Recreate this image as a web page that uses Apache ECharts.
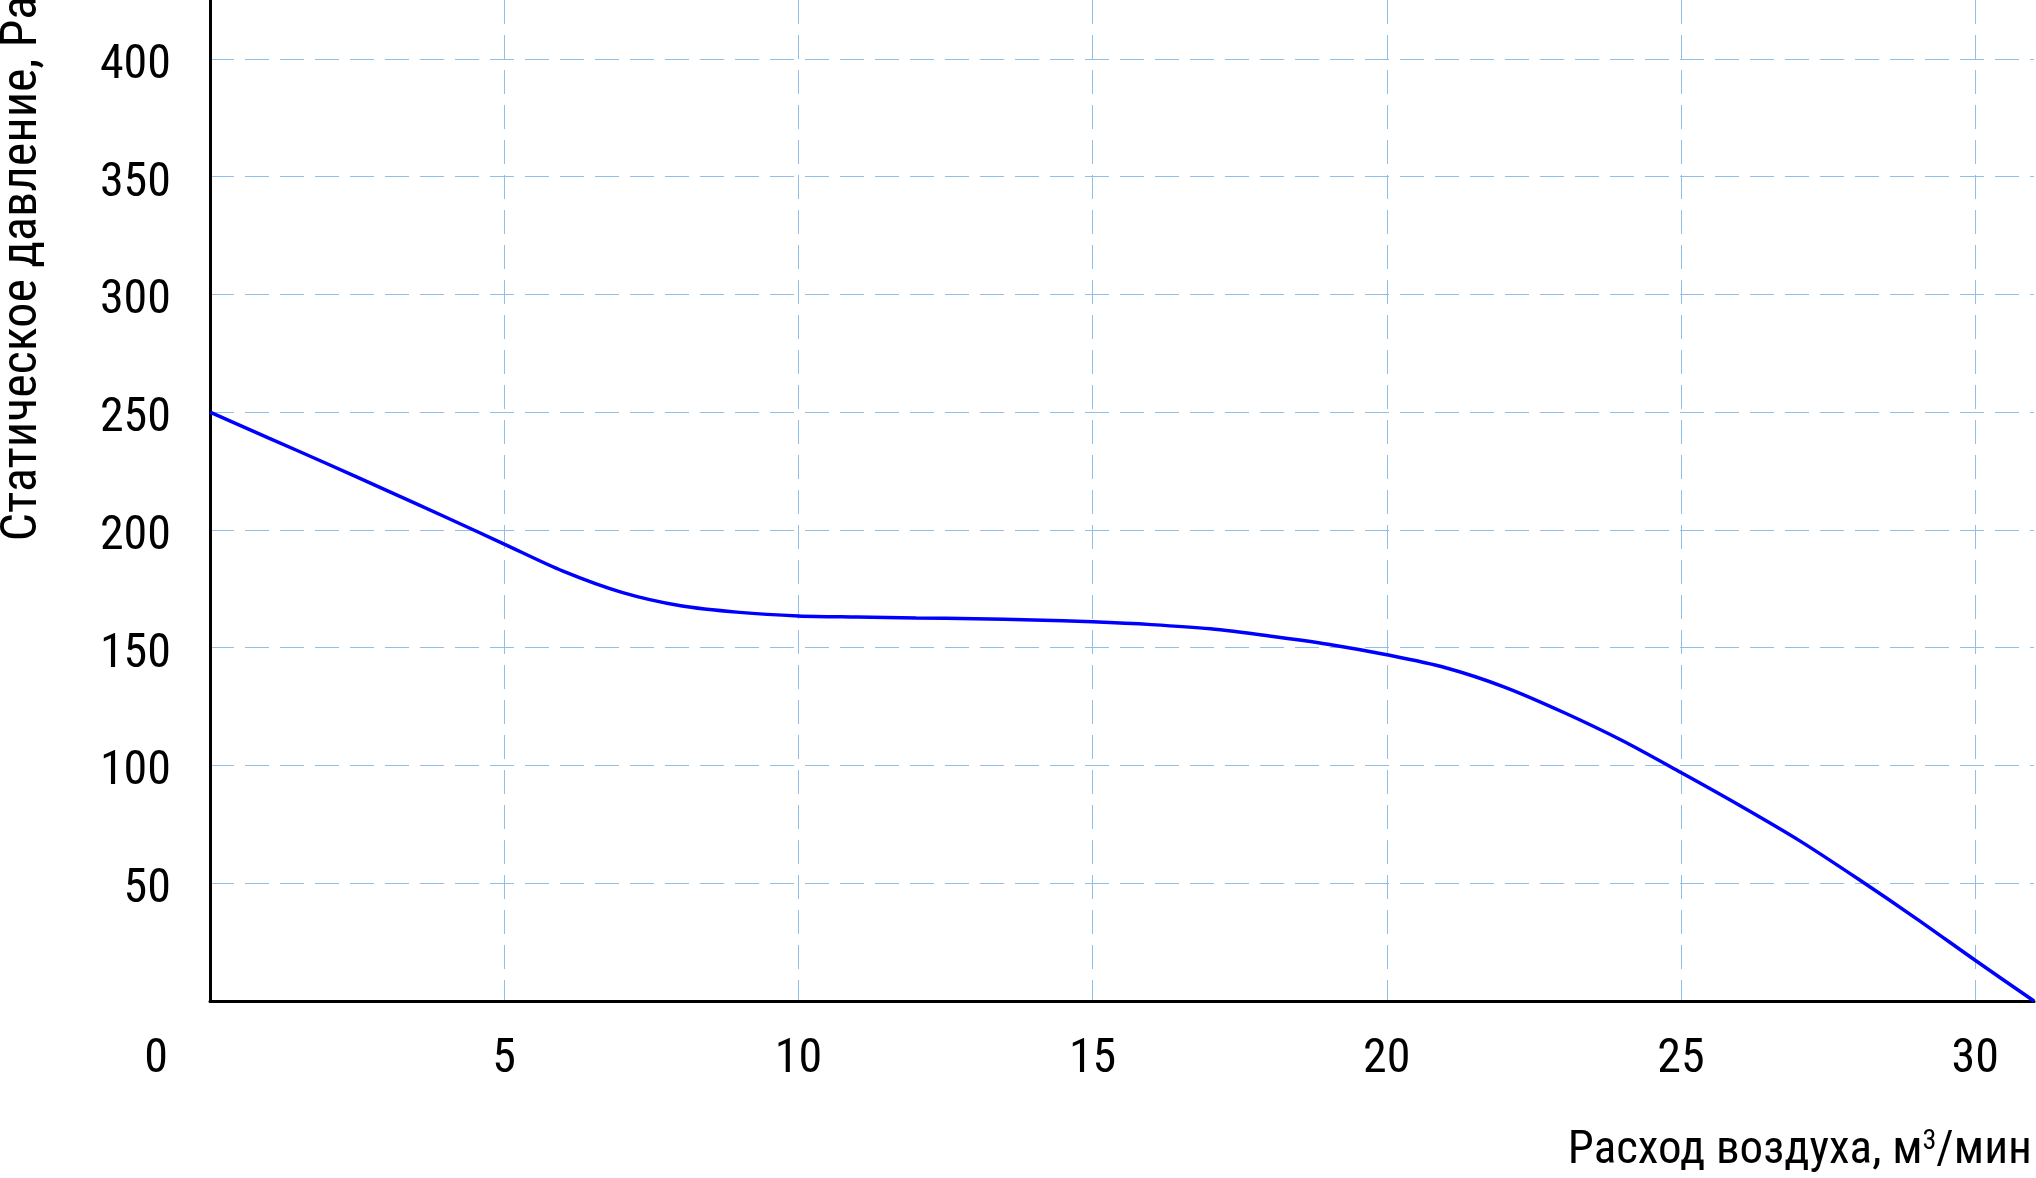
<!DOCTYPE html>
<html>
<head>
<meta charset="utf-8">
<script src="https://cdn.jsdelivr.net/npm/echarts@6/dist/echarts.min.js"></script>
<style>
html,body{margin:0;padding:0;background:#fff;}
#chart{width:2036px;height:1178px;}
</style>
</head>
<body>
<div id="chart"></div>
<script>
// Air flow, m3/min
const flow = [0, 1, 2, 3, 4, 5, 6, 7, 8, 9, 10, 11, 12, 13, 14, 15, 16, 17, 18, 19, 20, 21, 22, 23, 24, 25, 26, 27, 28, 29, 30, 31];
// Static pressure, Pa
const pressure = [250, 239, 228, 216.8, 205.5, 194, 182.5, 173.5, 167.8, 165, 163.5, 163, 162.6, 162.3, 161.8, 161, 159.8, 158, 155, 151.5, 147, 141.5, 133.3, 122.6, 110.6, 97, 83, 68.3, 52, 35, 17.3, 0];
const xTicks = [0, 5, 10, 15, 20, 25, 30];
const yTicks = [50, 100, 150, 200, 250, 300, 350, 400];
const xTitle = 'Расход воздуха, м';
const yTitle = 'Статическое давление, Ра';

const FONT = '"Liberation Sans Narrow", "Arial Narrow", "Roboto Condensed", "Liberation Sans", sans-serif';
const gridColor = '#90bfea';

const chart = echarts.init(document.getElementById('chart'), null, {renderer: 'canvas'});
chart.setOption({
  backgroundColor: '#ffffff',
  animation: false,
  grid: {left: 210, right: 2, top: 0, bottom: 177, containLabel: false, outerBoundsMode: 'none'},
  xAxis: {
    type: 'value', min: 0, max: 31, interval: 5,
    axisLine: {show: true, onZero: false, lineStyle: {color: '#000', width: 3}},
    axisTick: {show: false},
    splitLine: {show: true, showMinLine: false, showMaxLine: false,
      lineStyle: {color: gridColor, width: 1, type: [24, 11]}},
    axisLabel: {
      margin: 35, fontSize: 48, color: '#000', fontFamily: FONT,
      formatter: function (v) {
        if (xTicks.indexOf(v) < 0) return '';
        if (v === 0) return '{z|0}';
        return String(v);
      },
      rich: {z: {fontSize: 48, fontFamily: FONT, color: '#000', padding: [0, 108, 0, 0]}}
    },
    name: xTitle + '{sup|3}/мин',
    nameLocation: 'end', nameGap: -2,
    nameTextStyle: {
      fontSize: 47, fontFamily: FONT, color: '#000', align: 'right', verticalAlign: 'top',
      padding: [127, 0, 0, 0],
      rich: {sup: {fontSize: 28, fontFamily: FONT, color: '#000', verticalAlign: 'top', padding: [0, 0, 12, 0]}}
    }
  },
  yAxis: {
    type: 'value', min: 0, max: 425, interval: 50,
    axisLine: {show: true, onZero: false, lineStyle: {color: '#000', width: 3}},
    axisTick: {show: false},
    splitLine: {show: true, showMinLine: false, showMaxLine: false,
      lineStyle: {color: gridColor, width: 1, type: [24, 11]}},
    axisLabel: {
      margin: 39, fontSize: 48, color: '#000', fontFamily: FONT,
      formatter: function (v) { return yTicks.indexOf(v) < 0 ? '' : '{a|' + v + '}'; },
      rich: {a: {fontSize: 48, fontFamily: FONT, color: '#000', padding: [14, 0, 0, 0]}}
    },
    name: yTitle,
    nameLocation: 'middle', nameRotate: 90, nameGap: 162,
    nameTextStyle: {fontSize: 50, fontFamily: FONT, color: '#000', padding: [0, 0, 0, 464]}
  },
  series: [{
    type: 'line',
    data: flow.map((x, i) => [x, pressure[i]]),
    smooth: 0.3,
    showSymbol: false,
    lineStyle: {color: '#0000ff', width: 3.5},
    clip: false
  }]
});
</script>
</body>
</html>
